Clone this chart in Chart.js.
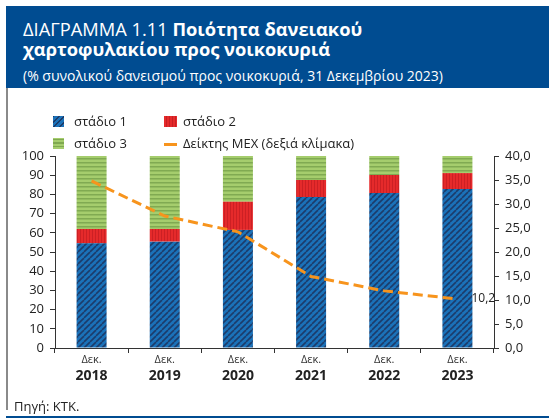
<!DOCTYPE html>
<html><head><meta charset="utf-8">
<script src="https://cdn.jsdelivr.net/npm/chart.js@4.4.1/dist/chart.umd.min.js"></script>
<style>
html,body{margin:0;padding:0;background:#fff;width:549px;height:419px;overflow:hidden;font-family:"Open Sans",sans-serif;}
#wrap{position:relative;width:549px;height:419px;}
#hdr{position:absolute;left:6px;top:6px;width:543px;height:82px;background:#004c91;}
.t{position:absolute;left:17px;color:#fff;white-space:nowrap;}
#t1{top:13px;font-size:18.3px;line-height:20px;}
#t2{top:33px;font-size:18.3px;line-height:20px;font-weight:700;}
#t3{top:62px;font-size:14px;line-height:16px;}
#lborder{position:absolute;left:6px;top:88px;width:2px;height:322px;background:#8a8a8a;}
#bborder{position:absolute;left:6px;top:416px;width:543px;height:2px;background:#004c91;}
#src{position:absolute;left:14px;top:397px;font-size:13px;color:#222;}
.lg{position:absolute;font-size:13px;color:#222;line-height:16px;white-space:nowrap;}
.sw{position:absolute;width:11px;height:11px;}
canvas{position:absolute;left:0;top:0;}
</style></head>
<body><div id="wrap">
<canvas id="c" width="549" height="419"></canvas>
<div id="hdr">
<div class="t" id="t1">ΔΙΑΓΡΑΜΜΑ 1.11 <b>Ποιότητα δανειακού</b></div>
<div class="t" id="t2">χαρτοφυλακίου προς νοικοκυριά</div>
<div class="t" id="t3">(% συνολικού δανεισμού προς νοικοκυριά, 31 Δεκεμβρίου 2023)</div>
</div>
<div id="lborder"></div>
<div id="bborder"></div>
<div id="src">Πηγή: ΚΤΚ.</div>
<div class="sw" style="left:53px;top:116px;background:repeating-linear-gradient(-45deg,#1b72b9 0 2.5px,#1c3c6b 2.5px 4px);"></div>
<div class="lg" style="left:74px;top:113px">στάδιο 1</div>
<div class="sw" style="left:164px;top:116px;width:13px;background:repeating-linear-gradient(90deg,#e52a2b 0 2px,#c81f23 2px 3px);"></div>
<div class="lg" style="left:183px;top:113px">στάδιο 2</div>
<div class="sw" style="left:53px;top:138px;background:repeating-linear-gradient(0deg,#a5cd6d 0 2px,#7fa950 2px 3.5px);"></div>
<div class="lg" style="left:74px;top:135px">στάδιο 3</div>
<div class="sw" style="left:164px;top:143px;width:13px;height:2.5px;background:#f7941d;"></div>
<div class="lg" style="left:183px;top:135px">Δείκτης ΜΕΧ (δεξιά κλίμακα)</div>
</div>
<script>
const months = ["Δεκ.","Δεκ.","Δεκ.","Δεκ.","Δεκ.","Δεκ."];
const years = ["2018","2019","2020","2021","2022","2023"];
const stage1 = [54.5, 55.4, 61.5, 78.6, 80.7, 82.8];
const stage2 = [7.5, 6.6, 14.7, 8.9, 9.4, 8.3];
const stage3 = [38.0, 38.0, 23.8, 12.5, 9.9, 8.9];
const mex = [34.8, 27.5, 24.2, 14.9, 11.9, 10.2];
const leftTicks = [0,10,20,30,40,50,60,70,80,90,100];
const rightTicks = [0,5,10,15,20,25,30,35,40];

function pat(kind){
  const c=document.createElement('canvas');
  const x=c.getContext('2d');
  if(kind==='diag'){
    c.width=6;c.height=6;
    x.fillStyle='#1b72b9';x.fillRect(0,0,6,6);
    x.strokeStyle='#1c3c6b';x.lineWidth=1.6;
    for(const o of [-6,0,6]){x.beginPath();x.moveTo(o,6);x.lineTo(o+6,0);x.stroke();}
  } else if(kind==='vert'){
    c.width=3;c.height=3;
    x.fillStyle='#e52a2b';x.fillRect(0,0,3,3);
    x.fillStyle='#cc2024';x.fillRect(2,0,1,3);
  } else {
    c.width=4;c.height=4;
    x.fillStyle='#a5cd6d';x.fillRect(0,0,4,4);
    x.fillStyle='#80aa52';x.fillRect(0,2,4,1.5);
  }
  return x.createPattern(c,'repeat');
}
const ctx=document.getElementById('c').getContext('2d');

const valueLabel={
  id:'valueLabel',
  afterDatasetsDraw(chart){
    const meta=chart.getDatasetMeta(3);
    const p=meta.data[meta.data.length-1];
    const c=chart.ctx;
    c.save();
    c.font='12px "Open Sans"';c.fillStyle='#222';c.textAlign='left';c.textBaseline='middle';
    c.fillText(String(mex[mex.length-1]).replace('.',','),p.x+14,p.y);
    c.restore();
  }
};

new Chart(ctx,{
  data:{
    labels:months,
    datasets:[
      {type:'bar',label:'στάδιο 1',data:stage1,backgroundColor:pat('diag'),stack:'s',order:1,yAxisID:'y',xAxisID:'x'},
      {type:'bar',label:'στάδιο 2',data:stage2,backgroundColor:pat('vert'),stack:'s',order:1,yAxisID:'y',xAxisID:'x'},
      {type:'bar',label:'στάδιο 3',data:stage3,backgroundColor:pat('horiz'),stack:'s',order:1,yAxisID:'y',xAxisID:'x'},
      {type:'line',label:'Δείκτης ΜΕΧ (δεξιά κλίμακα)',data:mex,borderColor:'#f7941d',borderWidth:3,borderDash:[10,5],pointRadius:0,tension:0,order:0,yAxisID:'y1',xAxisID:'x',fill:false}
    ]
  },
  options:{
    responsive:false,animation:false,
    layout:{padding:{top:156,left:0,right:0,bottom:22}},
    datasets:{bar:{categoryPercentage:1,barPercentage:0.41}},
    plugins:{legend:{display:false},tooltip:{enabled:false}},
    scales:{
      x:{type:'category',stacked:true,offset:true,position:'bottom',
        grid:{offset:true,drawOnChartArea:false,drawTicks:true,tickLength:5,color:'#333'},
        border:{color:'#333',width:1},
        ticks:{font:{family:'"Open Sans"',size:11},color:'#333',padding:0,maxRotation:0},
        afterFit(s){s.height=20;}},
      x2:{type:'category',labels:years,offset:true,position:'bottom',
        grid:{display:false,drawTicks:false},border:{display:false},
        ticks:{font:{family:'"Open Sans"',size:14,weight:'bold'},color:'#222',padding:0,maxRotation:0},
        afterFit(s){s.height=29;}},
      y:{stacked:true,min:0,max:100,position:'left',
        grid:{drawOnChartArea:false,drawTicks:true,tickLength:5,color:'#333'},
        border:{color:'#333',width:1},
        afterBuildTicks(s){s.ticks=leftTicks.map(v=>({value:v}));},
        ticks:{font:{family:'"Open Sans"',size:13},color:'#222',padding:6},
        afterFit(s){s.width=55;}},
      y1:{min:0,max:40,position:'right',
        grid:{drawOnChartArea:false,drawTicks:true,tickLength:5,color:'#333'},
        border:{color:'#333',width:1},
        afterBuildTicks(s){s.ticks=rightTicks.map(v=>({value:v}));},
        ticks:{font:{family:'"Open Sans"',size:13},color:'#222',padding:6,
          callback:v=>v.toFixed(1).replace('.',',')},
        afterFit(s){s.width=55;}}
    }
  },
  plugins:[valueLabel]
});
</script>
</body></html>
